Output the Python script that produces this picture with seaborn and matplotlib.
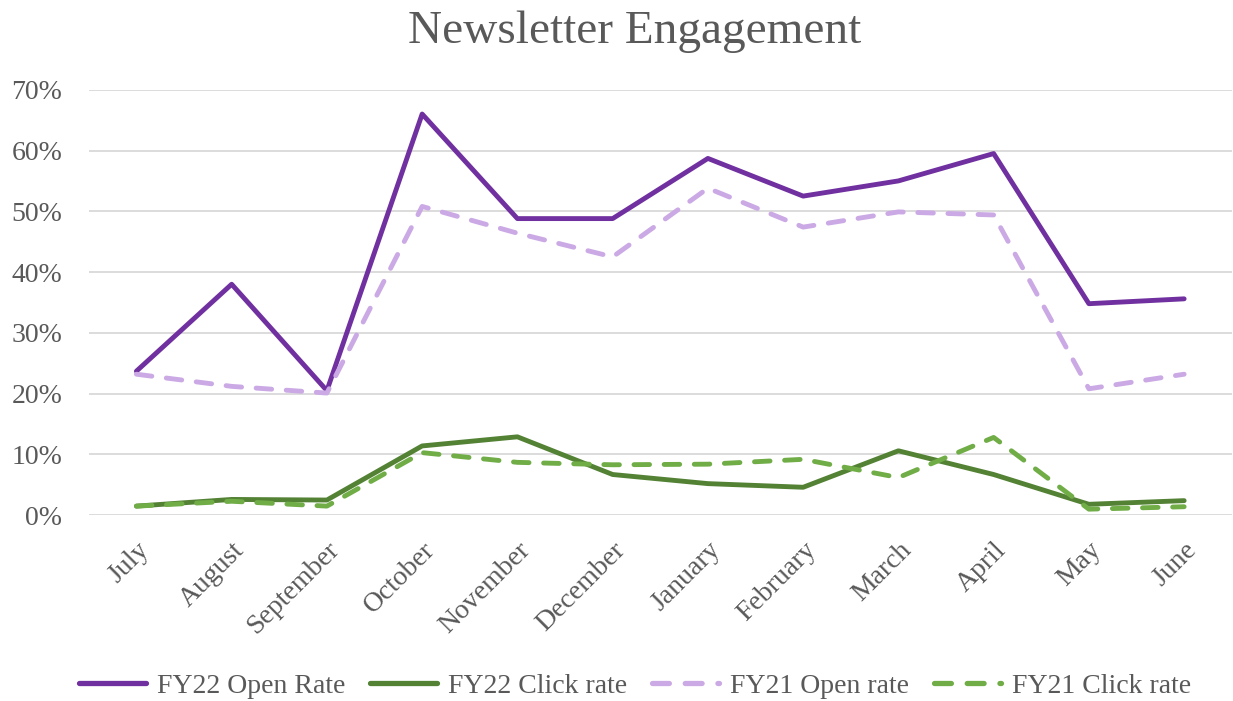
import matplotlib
matplotlib.use("Agg")
import matplotlib.pyplot as plt
import seaborn as sns
import pandas as pd
from matplotlib.ticker import PercentFormatter

months = ["July", "August", "September", "October", "November", "December",
          "January", "February", "March", "April", "May", "June"]

fy22_open = [23.7, 38.0, 20.5, 66.0, 48.8, 48.8, 58.7, 52.5, 55.0, 59.5, 34.8, 35.6]
fy22_click = [1.5, 2.6, 2.5, 11.4, 12.9, 6.7, 5.2, 4.6, 10.6, 6.7, 1.8, 2.4]
fy21_open = [23.2, 21.2, 20.1, 50.8, 46.4, 42.5, 53.8, 47.4, 49.9, 49.4, 20.8, 23.2]
fy21_click = [1.5, 2.3, 1.5, 10.3, 8.7, 8.3, 8.4, 9.2, 6.2, 12.8, 1.0, 1.4]

series_names = ["FY22 Open Rate", "FY22 Click rate", "FY21 Open rate", "FY21 Click rate"]
series_vals = [fy22_open, fy22_click, fy21_open, fy21_click]
colors = ["#7030A0", "#548235", "#CBA9E5", "#70AD47"]
dashed = [False, False, True, True]

sns.set_style("white")
plt.rcParams['font.family'] = ['Liberation Serif', 'DejaVu Serif']
grey = "#595959"
lw = 3.5

fig = plt.figure(figsize=(12.33, 7.01), dpi=100)
ax = fig.add_axes([0.072, 0.265, 0.927, 0.607])

for name, vals, col, dsh in zip(series_names, series_vals, colors, dashed):
    df = pd.DataFrame({"month": months, "rate": vals})
    sns.lineplot(data=df, x="month", y="rate", ax=ax, color=col, linewidth=lw,
                 sort=False, label=name)
    line = ax.get_lines()[-1]
    line.set_solid_capstyle("round")
    if dsh:
        line.set_dashes([3.2, 3.0])
        line.set_dash_capstyle("round")

ax.set_xlim(-0.5, 11.5)
ax.set_ylim(0, 70)
ax.set_yticks(range(0, 71, 10))
ax.yaxis.set_major_formatter(PercentFormatter(decimals=0))
ax.grid(axis="y", color="#D9D9D9", linewidth=1.3)
ax.set_axisbelow(True)
for s in ax.spines.values():
    s.set_visible(False)
ax.set_xlabel("")
ax.set_ylabel("")
ax.tick_params(axis="both", length=0, labelsize=20, colors=grey)
ax.tick_params(axis="y", pad=19)
ax.tick_params(axis="x", pad=16)
plt.setp(ax.get_xticklabels(), rotation=45, ha="right", rotation_mode="anchor")

fig.text(0.515, 0.955, "Newsletter Engagement", fontsize=34, color=grey,
         ha="center", va="center")

ax.get_legend().remove()
handles, labels = ax.get_legend_handles_labels()
leg = fig.legend(handles, labels, loc="center", bbox_to_anchor=(0.515, 0.021), ncol=4,
                 frameon=False, fontsize=20, labelcolor=grey, handlelength=2.4,
                 columnspacing=0.9, handletextpad=0.4, borderaxespad=0, borderpad=0)
for h in leg.get_lines():
    h.set_linewidth(lw + 0.3)
    h.set_solid_capstyle("round")
    h.set_dash_capstyle("round")

fig.savefig("out.png", dpi=100)
